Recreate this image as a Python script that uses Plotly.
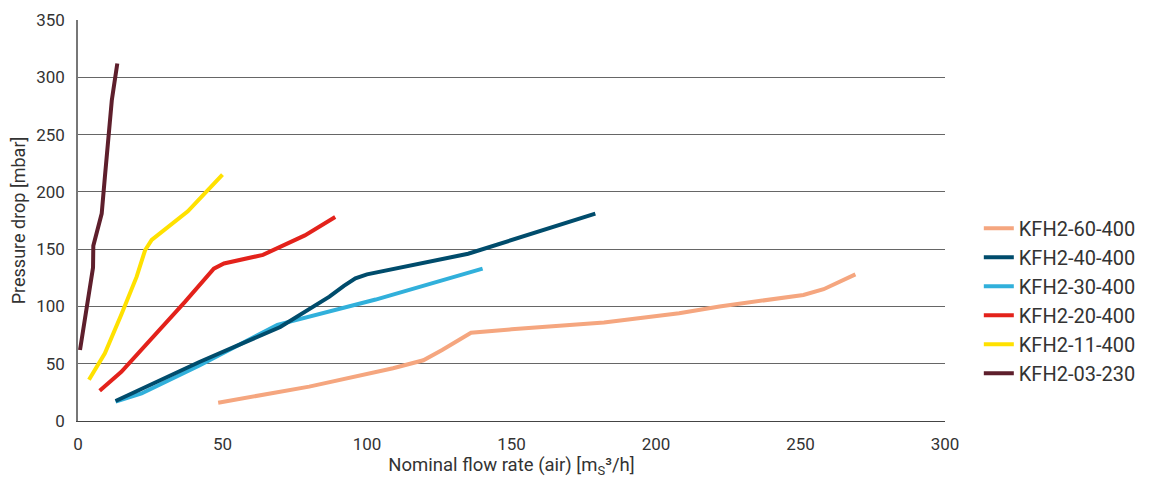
import plotly.graph_objects as go

names = ["KFH2-60-400", "KFH2-40-400", "KFH2-30-400", "KFH2-20-400", "KFH2-11-400", "KFH2-03-230"]
colors = ["#F5A67F", "#004C6C", "#31B0DB", "#E3221B", "#FFE100", "#5E1F2C"]

x_60 = [48.5, 80, 109, 119.5, 126, 136, 150, 182, 208, 222, 251, 258, 269]
y_60 = [16, 30, 46, 53, 62, 77, 80, 86, 94, 100, 110, 115, 128]

x_40 = [13, 42, 70, 87, 92, 96, 100, 135, 179]
y_40 = [17.5, 51.5, 82, 108.5, 118, 124.5, 128, 146, 181]

x_30 = [13, 22, 42, 69, 103, 140]
y_30 = [17, 24, 48.5, 84, 106, 133]

x_20 = [7.5, 15, 37, 47, 50.5, 64, 78.5, 89]
y_20 = [26.5, 43, 104, 133, 137.5, 145, 162, 178]

x_11 = [3.8, 9.3, 15, 20.3, 23.2, 25.5, 38, 50]
y_11 = [36, 59, 93, 126, 149, 158, 183, 215]

x_03 = [0.7, 3, 5.2, 5.3, 6, 8.2, 9.3, 10.5, 11.7, 13.6]
y_03 = [62, 100, 134, 153, 160, 181, 213, 245, 280, 312]

xs = [x_60, x_40, x_30, x_20, x_11, x_03]
ys = [y_60, y_40, y_30, y_20, y_11, y_03]

x_ticks = [0, 50, 100, 150, 200, 250, 300]
y_ticks = [0, 50, 100, 150, 200, 250, 300, 350]

fig = go.Figure()
draw_order = [0, 2, 1, 3, 4, 5]
for i in draw_order:
    fig.add_trace(go.Scatter(
        x=xs[i], y=ys[i], mode="lines", name=names[i],
        line=dict(color=colors[i], width=4),
        legendrank=i + 1,
    ))

font_family = "Roboto, 'DejaVu Sans', sans-serif"
fig.update_layout(
    width=1149, height=479,
    margin=dict(l=70, r=212, t=12, b=66),
    paper_bgcolor="white", plot_bgcolor="white",
    font=dict(family=font_family, color="#333333", size=17),
    showlegend=True,
    legend=dict(
        x=1.039, y=0.30, xanchor="left", yanchor="middle",
        font=dict(size=20, color="#333333"),
        tracegroupgap=0, itemwidth=30, borderwidth=0,
    ),
    xaxis=dict(
        range=[0, 300], tickvals=x_ticks, showgrid=False,
        showline=True, linecolor="#444444", linewidth=1,
        ticks="", zeroline=False, ticklabelstandoff=8, automargin=False,
        title=dict(text="Nominal flow rate (air) [m<sub>S</sub>³/h]", font=dict(size=18.5), standoff=4),
        tickfont=dict(size=17),
    ),
    yaxis=dict(
        range=[0, 350], tickvals=y_ticks, showgrid=True,
        gridcolor="#666666", gridwidth=1,
        showline=True, linecolor="#777777", linewidth=1.5,
        ticks="", zeroline=False, ticklabelstandoff=8, automargin=False,
        title=dict(text="Pressure drop [mbar]", font=dict(size=18), standoff=10),
        tickfont=dict(size=17),
    ),
)

fig.write_html("out.html")
